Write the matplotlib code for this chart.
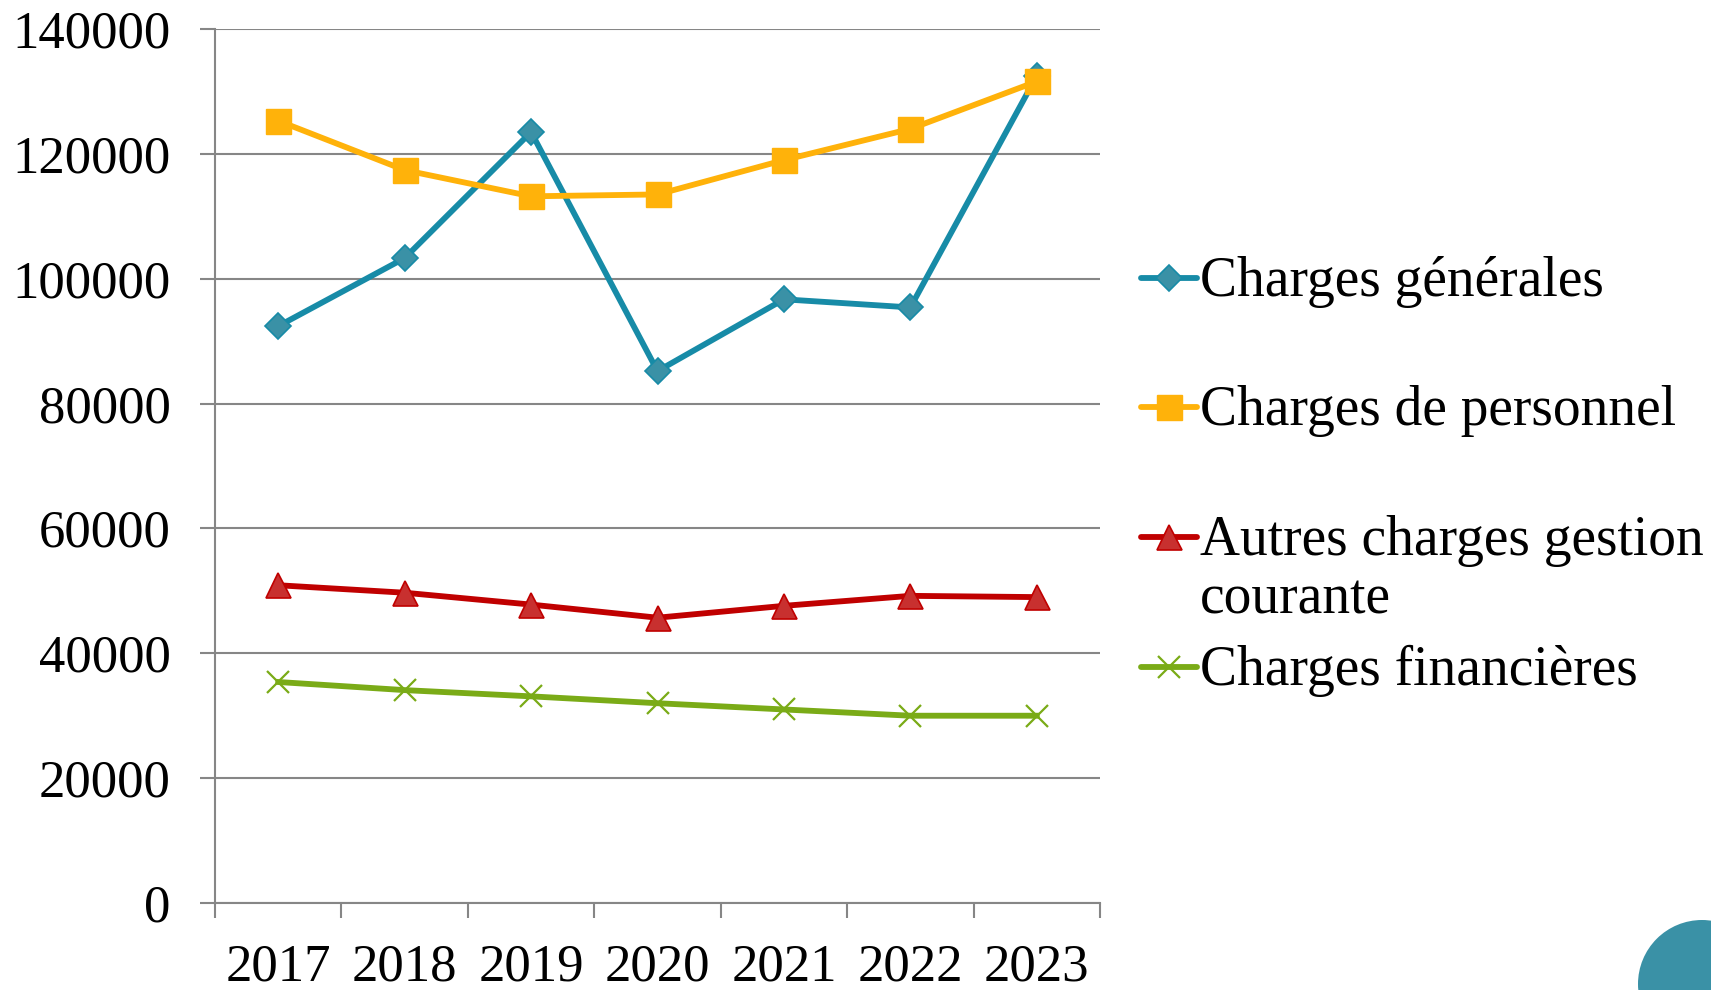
import matplotlib
matplotlib.use("Agg")
import matplotlib.pyplot as plt
from matplotlib.lines import Line2D
from matplotlib.patches import Circle

# données
annees = ["2017", "2018", "2019", "2020", "2021", "2022", "2023"]
charges_generales = [92400, 103300, 123500, 85200, 96700, 95400, 132500]
charges_personnel = [125300, 117400, 113200, 113500, 119000, 124000, 131600]
autres_charges = [50900, 49700, 47800, 45700, 47600, 49200, 49000]
charges_financieres = [35400, 34100, 33100, 32000, 31000, 30000, 30000]

W, H = 1711, 990
plt.rcParams["font.family"] = ["Liberation Serif", "DejaVu Serif"]
gris = "#868686"

fig = plt.figure(figsize=(W / 100, H / 100), dpi=100)
ax = fig.add_axes([215 / W, 87 / H, 885 / W, 874 / H])

x = list(range(1, len(annees) + 1))

series = [
    ("Charges générales", charges_generales,
     dict(color="#178BA7", marker="D", markersize=13, markerfacecolor="#3A91A6",
          markeredgecolor="#178BA7", markeredgewidth=1.2)),
    ("Charges de personnel", charges_personnel,
     dict(color="#FFB20A", marker="s", markersize=18, markerfacecolor="#FFB20A",
          markeredgecolor="#FFB20A", markeredgewidth=1)),
    ("Autres charges gestion\ncourante", autres_charges,
     dict(color="#C00000", marker="^", markersize=18, markerfacecolor="#C8302F",
          markeredgecolor="#C00000", markeredgewidth=1.2)),
    ("Charges financières", charges_financieres,
     dict(color="#7AAB17", marker="x", markersize=16, markeredgewidth=1.6)),
]

for nom, vals, style in series:
    ax.plot(x, vals, linewidth=4.2, solid_joinstyle="round", **style)

ax.set_xlim(0.5, len(annees) + 0.5)
ax.set_ylim(0, 140000)
ax.set_yticks(range(0, 140001, 20000))
ax.set_xticks([i + 0.5 for i in range(len(annees) + 1)])
ax.set_xticklabels([])
ax.set_xticks(x, minor=True)
ax.set_xticklabels(annees, minor=True)

ax.tick_params(axis="y", length=11, width=1.5, color=gris, pad=21, labelsize=38)
ax.tick_params(axis="x", which="major", length=11, width=1.5, color=gris)
ax.tick_params(axis="x", which="minor", length=0, pad=29, labelsize=38)

ax.grid(axis="y", color=gris, linewidth=1.5)
ax.set_axisbelow(True)
for s in ["top", "right"]:
    ax.spines[s].set_visible(False)
for s in ["left", "bottom"]:
    ax.spines[s].set_color(gris)
    ax.spines[s].set_linewidth(1.5)

# légende faite à la main
leg_y = [278, 407, 537, 667]
for (nom, vals, style), yp in zip(series, leg_y):
    yf = 1 - yp / H
    fig.add_artist(Line2D([1141 / W, 1197 / W], [yf, yf], transform=fig.transFigure,
                          linewidth=4.2, solid_capstyle="round", color=style["color"]))
    st = {k: v for k, v in style.items() if k != "color"}
    fig.add_artist(Line2D([1169 / W], [yf], transform=fig.transFigure,
                          linestyle="none", color=style["color"], **st))
    for i, txt in enumerate(nom.split("\n")):
        base = yp + 18 + i * 58
        fig.text(1200 / W, 1 - base / H, txt, fontsize=40, va="baseline", ha="left")

# cercle décoratif en bas à droite (en pixels)
fig.add_artist(Circle((1702, H - 984), 64, transform=None,
                      facecolor="#3A91A6", edgecolor="none"))

fig.savefig("out.png", dpi=100)
